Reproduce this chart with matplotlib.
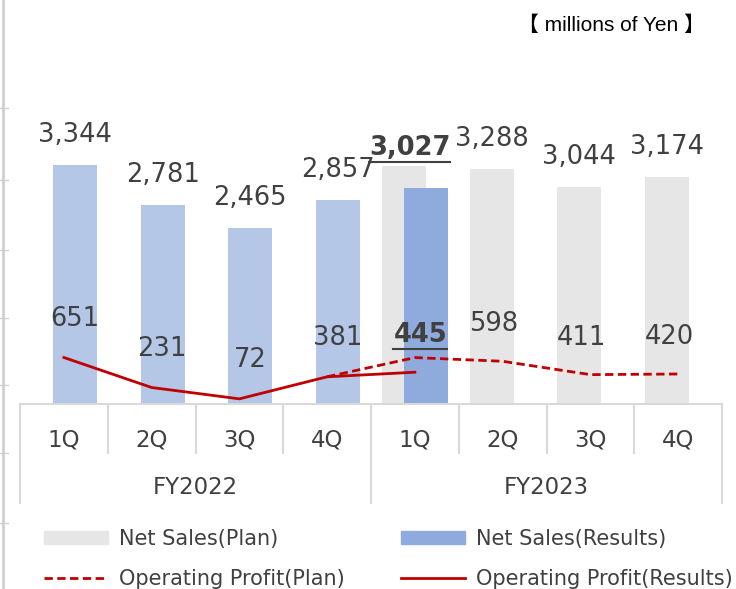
import matplotlib.pyplot as plt
from matplotlib.lines import Line2D
from matplotlib.patches import Patch
import numpy as np

# --- data (millions of Yen) ---
quarters = ["1Q", "2Q", "3Q", "4Q", "1Q", "2Q", "3Q", "4Q"]
years = ["FY2022", "FY2023"]

sales_results = [3344, 2781, 2465, 2857, 3027]      # FY2022 1Q..FY2023 1Q
sales_plan = [3330, 3288, 3044, 3174]               # FY2023 1Q..4Q
profit_results = [651, 231, 72, 381, 445]           # FY2022 1Q..FY2023 1Q
profit_plan = [381, 650, 598, 411, 420]             # FY2022 4Q..FY2023 4Q

sales_plan_labels = [None, "3,288", "3,044", "3,174"]
profit_plan_labels = [None, None, "598", "411", "420"]

C_PLAN = "#e6e6e6"
C_RES22 = "#b4c7e7"
C_RES23 = "#8faadc"
C_RED = "#c00000"
C_TXT = "#404040"
C_GRID = "#d9d9d9"

W, H = 736, 589
fig = plt.figure(figsize=(W / 100, H / 100), dpi=100)

# axes spans pixel x 20..722, y 110..404 (baseline)
ax_top, ax_bot = 110, 404
ax = fig.add_axes([20 / W, 1 - ax_bot / H, 702 / W, (ax_bot - ax_top) / H])
ax.set_xlim(-0.5, 7.5)
ax.set_ylim(0, (ax_bot - ax_top) * 14.0)
ax.axis("off")

def py(p):
    # pixel offset below baseline -> axes fraction
    return -p / (ax_bot - ax_top)

bw = 0.5
off = 0.125
x_res = np.arange(len(sales_results))
x_plan = np.arange(4, 8)

ax.bar(x_plan - off, sales_plan, width=bw, color=C_PLAN, zorder=1)
ax.bar(x_res + off, sales_results, width=bw,
       color=[C_RES22] * 4 + [C_RES23], zorder=2)

ax.plot(np.arange(3, 8), profit_plan, color=C_RED, lw=2, ls=(0, (3, 1.6)), zorder=3)
ax.plot(x_res, profit_results, color=C_RED, lw=2, zorder=4)

u = 14.0  # data units per pixel
fs = 18.5

# sales labels
for i, v in enumerate(sales_results[:4]):
    ax.text(i + off, v + 30 * u, f"{v:,}", ha="center", va="center",
            fontsize=fs, color=C_TXT)
t1 = ax.text(4 - 0.06, sales_results[4] + 40 * u, f"{sales_results[4]:,}",
             ha="center", va="center", fontsize=fs, color=C_TXT, fontweight="bold")
for i, lab in enumerate(sales_plan_labels):
    if lab:
        ax.text(x_plan[i] - off, sales_plan[i] + 30 * u, lab, ha="center",
                va="center", fontsize=fs, color=C_TXT)

# profit labels
for i, v in enumerate(profit_results[:4]):
    ax.text(i + 0.12, v + 39 * u, f"{v:,}", ha="center", va="center",
            fontsize=fs, color=C_TXT)
t2 = ax.text(4 + 0.06, profit_results[4] + 37 * u, f"{profit_results[4]}",
             ha="center", va="center", fontsize=fs, color=C_TXT, fontweight="bold")
for i, lab in enumerate(profit_plan_labels):
    if lab:
        ax.text(3 + i - 0.1, profit_plan[i] + 37 * u, lab, ha="center",
                va="center", fontsize=fs, color=C_TXT)

# category axis
trans = ax.get_xaxis_transform()
ax.plot([-0.5, 7.5], [0, 0], color=C_GRID, lw=1.5, transform=trans, clip_on=False)
for b in np.arange(-0.5, 8, 1):
    depth = 99 if b in (-0.5, 3.5, 7.5) else 49
    ax.plot([b, b], [0, py(depth)], color=C_GRID, lw=1.5, transform=trans, clip_on=False)
for i, q in enumerate(quarters):
    ax.text(i, py(36), q, ha="center", va="center", fontsize=16.5,
            color=C_TXT, transform=trans)
for j, yr in enumerate(years):
    ax.text(1.5 + 4 * j, py(84), yr, ha="center", va="center", fontsize=16.5,
            color=C_TXT, transform=trans)

# unit note
fig.text(705 / W, 1 - 25 / H, "【 millions of Yen 】", ha="right", va="center",
         fontsize=15, color="black", family=["Liberation Sans", "Noto Sans CJK JP"])

# left border remnants
fig.add_artist(Line2D([3 / W, 3 / W], [0, 1], color="#d0d0d0", lw=2))
for yy in [108, 180, 250, 318, 385, 453, 523]:
    fig.add_artist(Line2D([0, 8 / W], [1 - yy / H] * 2, color="#d0d0d0", lw=1))

# legend
handles = [Patch(color=C_PLAN),
           Line2D([], [], color=C_RED, lw=2, ls=(0, (3, 1.6))),
           Patch(color=C_RES23),
           Line2D([], [], color=C_RED, lw=2)]
labels = ["Net Sales(Plan)", "Operating Profit(Plan)",
          "Net Sales(Results)", "Operating Profit(Results)"]
leg = fig.legend(handles, labels, ncol=2, loc="upper left",
                 bbox_to_anchor=(25 / W, 1 - 510 / H), frameon=False,
                 fontsize=15, handlelength=3.1, handleheight=0.6,
                 columnspacing=2.7, labelspacing=0.95, handletextpad=0.5,
                 labelcolor=C_TXT)

# underline bold labels
fig.canvas.draw()
for t in (t1, t2):
    bb = t.get_window_extent()
    yline = (bb.y0 - 1) / H
    fig.add_artist(Line2D([bb.x0 / W, bb.x1 / W], [yline, yline],
                          color=C_TXT, lw=1.5))

fig.savefig("out.png", dpi=100)
